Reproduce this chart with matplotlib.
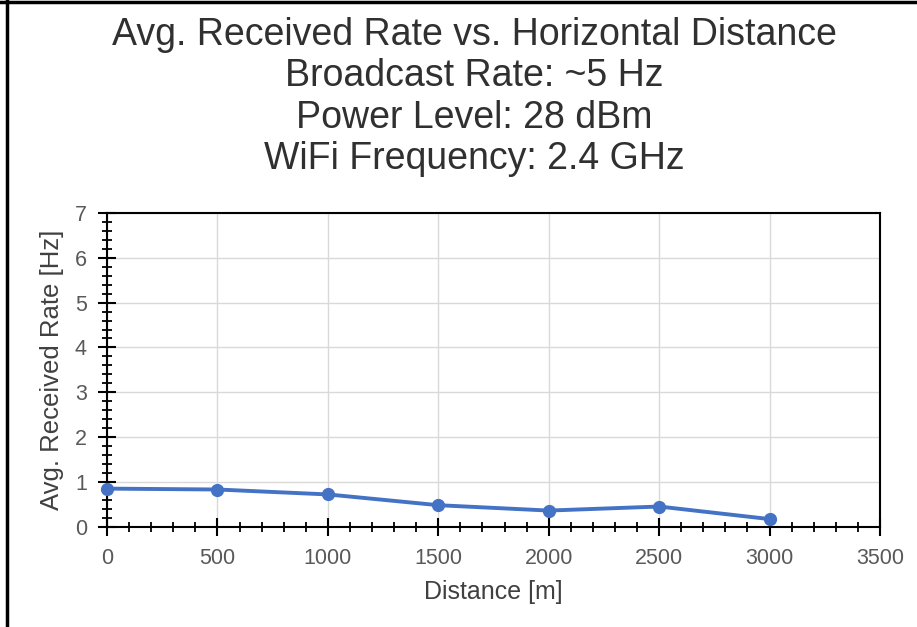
import matplotlib
matplotlib.use("Agg")
import matplotlib.pyplot as plt
from matplotlib.ticker import MultipleLocator
from matplotlib.lines import Line2D

distance_m = [0, 500, 1000, 1500, 2000, 2500, 3000]
avg_rate_hz = [0.85, 0.83, 0.72, 0.48, 0.36, 0.45, 0.17]
title_lines = ["Avg. Received Rate vs. Horizontal Distance",
               "Broadcast Rate: ~5 Hz",
               "Power Level: 28 dBm",
               "WiFi Frequency: 2.4 GHz"]

plt.rcParams['font.family'] = ['Liberation Sans', 'DejaVu Sans']

fig = plt.figure(figsize=(9.17, 6.27), dpi=100)
ax = fig.add_axes([107/917, 1 - 526.7/627, (880-107)/917, (526.7-213)/627])

ax.plot(distance_m, avg_rate_hz, color='#4472C4', lw=2.8, marker='o',
        markersize=8.5, zorder=3, clip_on=False)

ax.set_xlim(0, 3500)
ax.set_ylim(0, 7)
ax.xaxis.set_major_locator(MultipleLocator(500))
ax.xaxis.set_minor_locator(MultipleLocator(100))
ax.yaxis.set_major_locator(MultipleLocator(1))
ax.yaxis.set_minor_locator(MultipleLocator(0.2))
ax.grid(True, which='major', color='#d9d9d9', lw=1)
ax.set_axisbelow(True)
for s in ax.spines.values():
    s.set_color('black')
    s.set_linewidth(1.5)
ax.tick_params(which='major', direction='inout', length=13, width=1.5,
               color='black', labelsize=15.5, labelcolor='#595959')
ax.tick_params(axis='y', which='major', pad=8)
ax.tick_params(axis='x', which='major', pad=8.5)
ax.tick_params(which='minor', direction='inout', length=7.5, width=1.3, color='black')

ax.set_xlabel("Distance [m]", fontsize=18, color='#404040', labelpad=8)
ax.set_ylabel("Avg. Received Rate [Hz]", fontsize=18.5, color='#404040', labelpad=8)

fig.text(0.517, 1 - 17/627, "\n".join(title_lines), ha='center', va='top',
         fontsize=27, color='#303030', linespacing=1.19)

fig.add_artist(Line2D([6.5/917, 6.5/917], [0, 1], color='black', lw=2.5,
                      transform=fig.transFigure))
fig.add_artist(Line2D([0, 1], [1 - 2/627, 1 - 2/627], color='black', lw=2.5,
                      transform=fig.transFigure))

fig.savefig("out.png", dpi=100, facecolor='white')
